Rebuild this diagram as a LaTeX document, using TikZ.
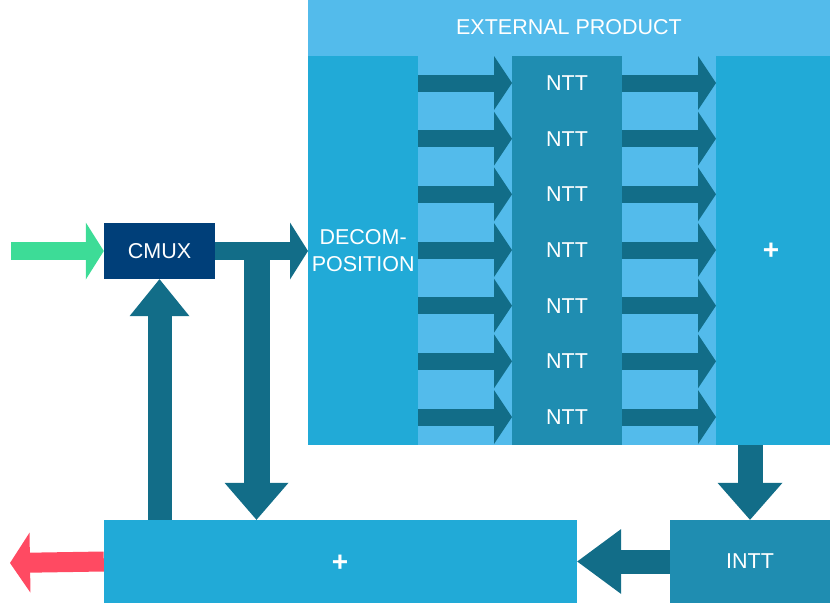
\documentclass[tikz,border=0pt]{standalone}
\usepackage{fontspec}
\setmainfont{Liberation Sans}
\usetikzlibrary{arrows.meta}
\definecolor{extlight}{HTML}{53BBEB}
\definecolor{colblue}{HTML}{21AAD7}
\definecolor{nttblue}{HTML}{1F8DB1}
\definecolor{cmuxblue}{HTML}{003F79}
\definecolor{arrowdark}{HTML}{126D88}
\definecolor{ingreen}{HTML}{3DDC97}
\definecolor{outred}{HTML}{FF4A62}
\begin{document}
\begin{tikzpicture}[x=1pt,y=-1pt,
  blk/.style={rectangle,inner sep=0pt,text=white,font=\fontsize{21.5}{27}\selectfont,align=center},
  lbl/.style={inner sep=0pt,text=white,font=\fontsize{21.5}{27}\selectfont,align=center},
  pluslbl/.style={inner sep=0pt,text=white,font=\fontsize{28}{30}\selectfont\bfseries},
  rowarrow/.style={arrowdark,line width=17pt,-{Triangle[width=54pt,length=18pt,line width=0pt]}},
  flatarrow/.style={line width=18pt,-{Triangle[width=57pt,length=18pt,line width=0pt]}},
  bigarrow/.style={arrowdark,line width=26pt,-{Triangle[width=64pt,length=37pt,line width=0pt]}}]
\useasboundingbox (0,0) rectangle (830,605);
% external product block
\node[blk,fill=extlight,minimum width=522pt,minimum height=445pt,anchor=north west] (ext) at (308,0) {};
\node[lbl] (title) at (569,27) {EXTERNAL PRODUCT};
\node[blk,fill=colblue,minimum width=110pt,minimum height=389pt,anchor=north west] (decomp) at (308,56) {DECOM-\\POSITION};
\node[blk,fill=nttblue,minimum width=110pt,minimum height=389pt,anchor=north west] (nttcol) at (512,56) {};
\node[blk,fill=colblue,minimum width=114pt,minimum height=389pt,anchor=north west] (sumcol) at (716,56) {};
\node[pluslbl] (plus1) at (771,251) {+};
\foreach \i in {1,...,7} {
  \node[lbl] (ntt\i) at (567,27.33+55.67*\i) {NTT};
  \draw[rowarrow] (decomp.east |- ntt\i) -- (nttcol.west |- ntt\i);
  \draw[rowarrow] (nttcol.east |- ntt\i) -- (sumcol.west |- ntt\i);
}
% loop part
\node[blk,fill=cmuxblue,minimum width=111pt,minimum height=56pt] (cmux) at (159.5,251) {CMUX};
\node[blk,fill=colblue,minimum width=473pt,minimum height=83pt] (sum) at (340.5,561.5) {};
\node[pluslbl] (plus2) at (340,563) {+};
\node[blk,fill=nttblue,minimum width=160pt,minimum height=83pt] (intt) at (750,561.5) {INTT};
\coordinate (in) at (11,251);
\coordinate (out) at (10,563);
\coordinate (split) at (256.5,251);
\draw[flatarrow,ingreen] (in) -- (cmux.west);
\draw[flatarrow,arrowdark] (cmux.east) -- (cmux.east -| ext.west);
\draw[bigarrow] (split) -- (split |- sum.north);
\draw[bigarrow,line width=24pt,-{Triangle[width=60pt,length=37pt,line width=0pt]}] (cmux.south |- sum.north) -- (cmux.south);
\draw[bigarrow,line width=25pt,-{Triangle[width=65pt,length=37pt,line width=0pt]}] (intt.north |- sumcol.south) -- (intt.north);
\draw[bigarrow,line width=24pt,-{Triangle[width=65pt,length=44pt,line width=0pt]}] (intt.west) -- (sum.east);
\draw[outred,line width=20pt,-{Triangle[width=60pt,length=20pt,line width=0pt]}] (sum.west) -- (out);
\end{tikzpicture}
\end{document}
